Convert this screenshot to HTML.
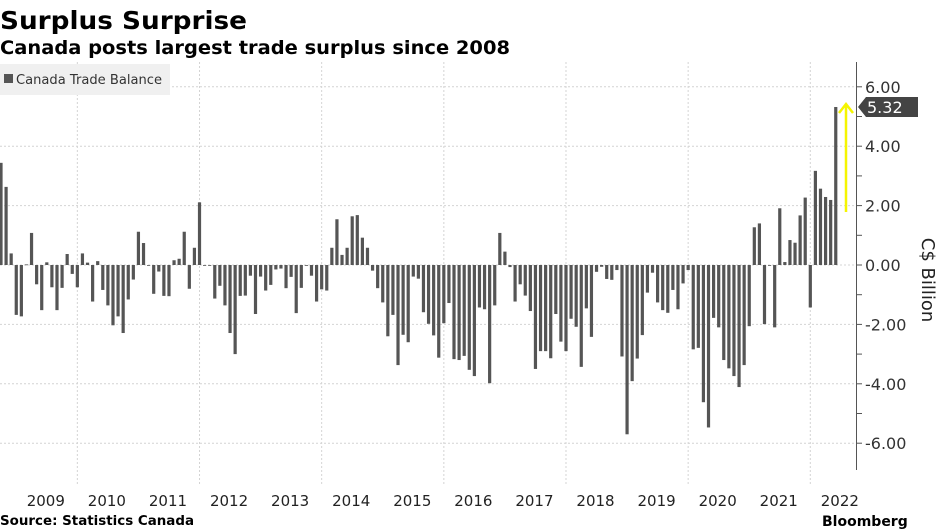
<!DOCTYPE html>
<html><head><meta charset="utf-8"><style>
body{margin:0;background:#fff;}
svg{display:block;font-family:"DejaVu Sans","Liberation Sans",sans-serif;}
</style></head><body>
<svg id="chart" width="941" height="529" viewBox="0 0 941 529">
<text x="0" y="29" font-size="25" font-weight="bold" fill="#000" textLength="247" lengthAdjust="spacingAndGlyphs">Surplus Surprise</text>
<text x="0" y="54" font-size="19" font-weight="bold" fill="#000" textLength="510" lengthAdjust="spacingAndGlyphs">Canada posts largest trade surplus since 2008</text>
<g id="grid"></g>
<g id="bars"></g>
<g id="axis"></g>
<g>
<rect x="0" y="64" width="170" height="31" fill="#f0f0f0"/>
<rect x="4" y="74" width="9" height="9" fill="#555"/>
<text x="16" y="84" font-size="13.5" fill="#333" textLength="146" lengthAdjust="spacingAndGlyphs">Canada Trade Balance</text>
</g>
<text x="0" y="525" font-size="13" font-weight="bold" fill="#000" textLength="194" lengthAdjust="spacingAndGlyphs">Source: Statistics Canada</text>
<text x="822" y="526" font-size="14" font-weight="bold" fill="#000">Bloomberg</text>
<text transform="translate(922,280) rotate(90)" font-size="18" fill="#222" text-anchor="middle">C$ Billion</text>
</svg>
<script>
const values=[3.44,2.63,0.39,-1.68,-1.73,0.02,1.08,-0.65,-1.52,0.09,-0.75,-1.52,-0.77,0.37,-0.3,-0.75,0.39,0.08,-1.23,0.13,-0.84,-1.36,-2.03,-1.73,-2.29,-1.16,-0.49,1.12,0.74,-0.02,-0.97,-0.22,-1.04,-1.05,0.16,0.21,1.12,-0.8,0.58,2.11,-0.02,-0.02,-1.13,-0.7,-1.36,-2.29,-3.0,-1.04,-1.03,-0.36,-1.65,-0.39,-0.86,-0.67,-0.15,-0.12,-0.78,-0.4,-1.62,-0.77,-0.02,-0.36,-1.23,-0.82,-0.86,0.58,1.54,0.34,0.58,1.64,1.68,0.92,0.58,-0.19,-0.78,-1.26,-2.4,-1.68,-3.37,-2.35,-2.6,-0.39,-0.46,-1.59,-1.98,-2.37,-3.12,-1.96,-1.28,-3.17,-3.2,-3.06,-3.53,-3.74,-1.43,-1.49,-3.98,-1.36,1.08,0.45,-0.07,-1.23,-0.65,-1.03,-1.55,-3.5,-2.9,-2.9,-3.14,-1.65,-2.58,-2.9,-1.81,-2.08,-3.43,-1.46,-2.42,-0.23,-0.06,-0.47,-0.5,-0.17,-3.08,-5.7,-3.91,-3.15,-2.36,-0.93,-0.26,-1.26,-1.52,-1.61,-0.84,-1.49,-0.62,-0.17,-2.84,-2.79,-4.62,-5.47,-1.78,-2.1,-3.2,-3.48,-3.74,-4.11,-3.37,-2.06,1.27,1.4,-1.99,-0.02,-2.1,1.91,0.1,0.84,0.75,1.67,2.27,-1.43,3.17,2.57,2.29,2.19,5.32];
const startYear=2008, startMonth=9; // index 0 = Oct 2008
const yTicks=[6,4,2,0,-2,-4,-6];
const yTickLabels=["6.00","4.00","2.00","0.00","-2.00","-4.00","-6.00"];
const xYears=[2009,2010,2011,2012,2013,2014,2015,2016,2017,2018,2019,2020,2021,2022];
const lastLabel="5.32";
const NS="http://www.w3.org/2000/svg";
const x=i=>1+5.09*i;
const y=v=>265-29.7*v;
const monthIdx=(yr,m)=>(yr-startYear)*12+m-startMonth;
function mk(tag,attrs,parent){const e=document.createElementNS(NS,tag);for(const k in attrs)e.setAttribute(k,attrs[k]);parent.appendChild(e);return e;}
const grid=document.getElementById('grid'),bars=document.getElementById('bars'),axis=document.getElementById('axis');
yTicks.forEach(t=>{const l=mk('line',{x1:0,x2:856,y1:y(t),y2:y(t),stroke:'#d4d4d4','stroke-dasharray':'2,2'},grid);

});
for(let yr=2010;yr<=2022;yr+=2){const gx=x(monthIdx(yr,0));const l=mk('line',{x1:gx,x2:gx,y1:62,y2:485,stroke:'#d4d4d4','stroke-dasharray':'2,2'},grid);

}
values.forEach((v,i)=>{const r=mk('rect',{x:x(i)-1.6,width:3.2,y:Math.min(y(v),y(0)),height:Math.max(Math.abs(y(v)-y(0)),0.8),fill:'#555'},bars);

});
const ax=mk('line',{x1:856.5,x2:856.5,y1:62,y2:470,stroke:'#555','stroke-width':1},axis);


for(let t=-6;t<=6;t++){const tk=mk('line',{x1:856,x2:862,y1:y(t),y2:y(t),stroke:'#555'},axis);

}
yTicks.forEach((t,i)=>{const tx=mk('text',{x:865,y:y(t)+6,'font-size':16,fill:'#333'},axis);tx.textContent=yTickLabels[i];

});
xYears.forEach(yr=>{const tx=mk('text',{x:x(monthIdx(yr,6))-1,y:506,'font-size':15,fill:'#222','text-anchor':'middle'},axis);tx.textContent=yr;

});
const lv=values[values.length-1],ly=y(lv);
const tag=mk('path',{d:`M858 ${ly} L866 ${ly-10} L918 ${ly-10} L918 ${ly+10} L866 ${ly+10} Z`,fill:'#444'},axis);


const tt=mk('text',{x:867,y:ly+6,'font-size':16,fill:'#fff'},axis);tt.textContent=lastLabel;


const ar=mk('path',{d:`M846 212 L846 ${ly-3} M839 ${ly+6} L846 ${ly-3} L853 ${ly+6}`,stroke:'#f5f500','stroke-width':2.5,fill:'none'},axis);


</script>
</body></html>
